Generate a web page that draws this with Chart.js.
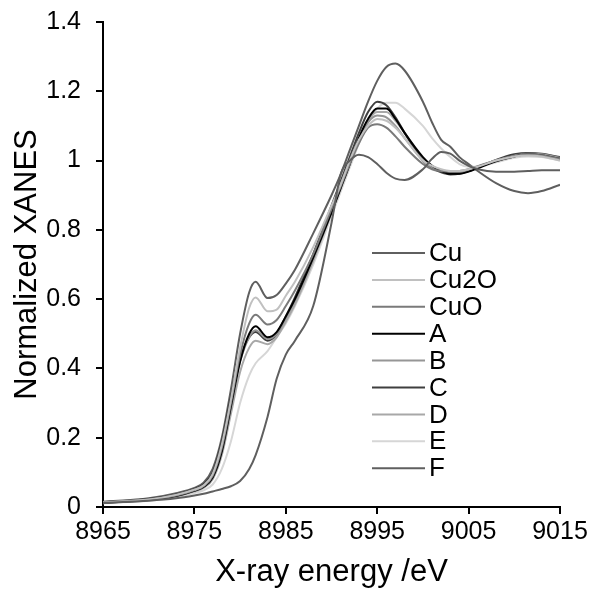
<!DOCTYPE html>
<html>
<head>
<meta charset="utf-8">
<script src="https://cdn.jsdelivr.net/npm/chart.js@4.4.0/dist/chart.umd.min.js"></script>
<style>
  html, body { margin: 0; padding: 0; background: #fff; }
  #wrap { width: 592px; height: 591px; }
</style>
</head>
<body>
<div id="wrap"><canvas id="chart"></canvas></div>
<script>
// X-ray energy grid (eV)
const energy = [8965, 8970, 8973, 8975, 8976, 8977, 8978, 8979, 8980, 8981, 8981.7,
  8983, 8984, 8985, 8986, 8988, 8990, 8991, 8992, 8993, 8994, 8995, 8996, 8997, 8998,
  9000, 9001, 9002, 9003, 9004, 9005, 9006, 9008, 9010, 9011.5, 9013, 9015];

// normalized XANES per sample
const cu = [0.012, 0.018, 0.025, 0.033, 0.038, 0.045, 0.052, 0.06, 0.075, 0.11, 0.15,
  0.26, 0.37, 0.44, 0.48, 0.58, 0.82, 0.96, 1.0, 1.017, 1.01, 0.99, 0.965, 0.948, 0.944,
  0.975, 1.005, 1.025, 1.02, 1.0, 0.985, 0.975, 0.968, 0.968, 0.97, 0.972, 0.972];
const cu2o = [0.014, 0.022, 0.035, 0.05, 0.062, 0.095, 0.18, 0.31, 0.46, 0.575, 0.605,
  0.565, 0.57, 0.61, 0.65, 0.75, 0.87, 0.93, 1.0, 1.06, 1.1, 1.12, 1.115, 1.095, 1.065,
  1.0, 0.985, 0.975, 0.97, 0.97, 0.975, 0.982, 1.0, 1.012, 1.015, 1.012, 1.0];
const cuo = [0.013, 0.021, 0.033, 0.048, 0.06, 0.09, 0.17, 0.3, 0.44, 0.53, 0.555,
  0.527, 0.54, 0.58, 0.625, 0.73, 0.86, 0.925, 0.99, 1.05, 1.095, 1.105, 1.095, 1.07, 1.04,
  0.99, 0.975, 0.97, 0.968, 0.97, 0.975, 0.984, 1.0, 1.012, 1.018, 1.015, 1.005];
const sampleA = [0.012, 0.02, 0.032, 0.047, 0.058, 0.085, 0.16, 0.29, 0.42, 0.5, 0.522,
  0.49, 0.505, 0.55, 0.6, 0.72, 0.85, 0.92, 0.99, 1.065, 1.12, 1.15, 1.15, 1.12, 1.08,
  1.01, 0.985, 0.97, 0.962, 0.962, 0.968, 0.978, 0.998, 1.012, 1.018, 1.015, 1.005];
const sampleB = [0.013, 0.021, 0.034, 0.05, 0.062, 0.092, 0.17, 0.3, 0.42, 0.49, 0.51,
  0.485, 0.5, 0.545, 0.595, 0.72, 0.86, 0.93, 0.995, 1.06, 1.11, 1.13, 1.125, 1.1, 1.065,
  1.0, 0.98, 0.97, 0.965, 0.966, 0.972, 0.982, 1.0, 1.014, 1.02, 1.018, 1.008];
const sampleC = [0.014, 0.023, 0.036, 0.052, 0.066, 0.1, 0.19, 0.32, 0.43, 0.49, 0.505,
  0.48, 0.5, 0.55, 0.605, 0.73, 0.87, 0.94, 1.01, 1.08, 1.14, 1.17, 1.16, 1.125, 1.08,
  1.0, 0.978, 0.966, 0.96, 0.962, 0.97, 0.98, 1.002, 1.018, 1.022, 1.02, 1.01];
const sampleD = [0.012, 0.02, 0.031, 0.045, 0.055, 0.08, 0.15, 0.27, 0.39, 0.46, 0.48,
  0.47, 0.49, 0.535, 0.585, 0.71, 0.85, 0.92, 0.99, 1.06, 1.115, 1.14, 1.14, 1.115, 1.08,
  1.005, 0.982, 0.97, 0.964, 0.965, 0.97, 0.98, 1.0, 1.015, 1.02, 1.018, 1.01];
const sampleE = [0.011, 0.018, 0.028, 0.04, 0.048, 0.065, 0.11, 0.19, 0.3, 0.38, 0.415,
  0.45, 0.49, 0.53, 0.58, 0.7, 0.84, 0.91, 0.98, 1.05, 1.11, 1.15, 1.167, 1.167, 1.15,
  1.1, 1.065, 1.035, 1.01, 0.99, 0.982, 0.982, 0.995, 1.008, 1.012, 1.01, 1.0];
const sampleF = [0.015, 0.025, 0.04, 0.055, 0.07, 0.11, 0.2, 0.34, 0.5, 0.62, 0.65,
  0.603, 0.612, 0.645, 0.685, 0.79, 0.9, 0.96, 1.03, 1.1, 1.17, 1.23, 1.27, 1.28, 1.26,
  1.17, 1.11, 1.06, 1.04, 1.01, 0.99, 0.97, 0.935, 0.912, 0.906, 0.912, 0.93];

const seriesNames = ['Cu', 'Cu2O', 'CuO', 'A', 'B', 'C', 'D', 'E', 'F'];
const seriesValues = [cu, cu2o, cuo, sampleA, sampleB, sampleC, sampleD, sampleE, sampleF];
const seriesColors = ['#5f5f5f', '#c0c0c0', '#7a7a7a', '#000000', '#969696',
  '#3f3f3f', '#a8a8a8', '#d6d6d6', '#5f5f5f'];

const xTicks = [8965, 8975, 8985, 8995, 9005, 9015];

const datasets = seriesNames.map((name, i) => ({
  label: name,
  data: energy.map((e, k) => ({ x: e, y: seriesValues[i][k] })),
  borderColor: seriesColors[i],
  borderWidth: 2,
  pointRadius: 0,
  cubicInterpolationMode: 'monotone',
  fill: false
}));

// legend drawn inside the plot, like the original
const insideLegend = {
  id: 'insideLegend',
  afterDraw(chart) {
    const ctx = chart.ctx;
    const ca = chart.chartArea;
    const x0 = ca.left + 269;
    const y0 = ca.top + 231;
    const step = 26.9;
    ctx.save();
    ctx.font = '26px "Liberation Sans", Arial, sans-serif';
    ctx.textBaseline = 'middle';
    ctx.textAlign = 'left';
    chart.data.datasets.forEach((ds, i) => {
      const y = y0 + i * step;
      ctx.strokeStyle = ds.borderColor;
      ctx.lineWidth = 2;
      ctx.beginPath();
      ctx.moveTo(x0, y);
      ctx.lineTo(x0 + 53, y);
      ctx.stroke();
      ctx.fillStyle = '#000';
      ctx.fillText(ds.label, x0 + 57, y + 1);
    });
    ctx.restore();
  }
};

Chart.defaults.font.family = '"Liberation Sans", Arial, sans-serif';
Chart.defaults.color = '#000';

new Chart(document.getElementById('chart'), {
  type: 'line',
  data: { datasets: datasets },
  options: {
    responsive: true,
    maintainAspectRatio: false,
    animation: false,
    layout: { padding: { left: 0, right: 32, top: 22, bottom: 0 } },
    plugins: {
      legend: { display: false },
      tooltip: { enabled: false }
    },
    scales: {
      x: {
        type: 'linear',
        min: 8965,
        max: 9015,
        afterBuildTicks: (scale) => {
          scale.ticks = xTicks.map(v => ({ value: v }));
        },
        afterFit: (scale) => { scale.height = 84; },
        ticks: { font: { size: 25 }, padding: 3, maxRotation: 0, callback: v => String(v) },
        grid: { display: true, drawOnChartArea: false, drawTicks: true, tickLength: 7, color: '#000', lineWidth: 2 },
        border: { display: true, color: '#000', width: 2 },
        title: { display: true, text: 'X-ray energy /eV', font: { size: 31 }, padding: { top: 0, bottom: 0 } }
      },
      y: {
        min: 0,
        max: 1.4,
        afterFit: (scale) => {
          scale.width = 103;
          // the top label may hang over the edge, as in the original
          scale.paddingTop = 0;
          scale.paddingBottom = 0;
        },
        ticks: {
          stepSize: 0.2,
          font: { size: 25 },
          padding: 15,
          callback: v => String(Math.round(v * 10) / 10)
        },
        grid: { display: true, drawOnChartArea: false, drawTicks: true, tickLength: 7, color: '#000', lineWidth: 2 },
        border: { display: true, color: '#000', width: 2 },
        title: { display: true, text: 'Normalized XANES', font: { size: 31 }, padding: { top: 9, bottom: 0 } }
      }
    }
  },
  plugins: [insideLegend]
});
</script>
</body>
</html>
